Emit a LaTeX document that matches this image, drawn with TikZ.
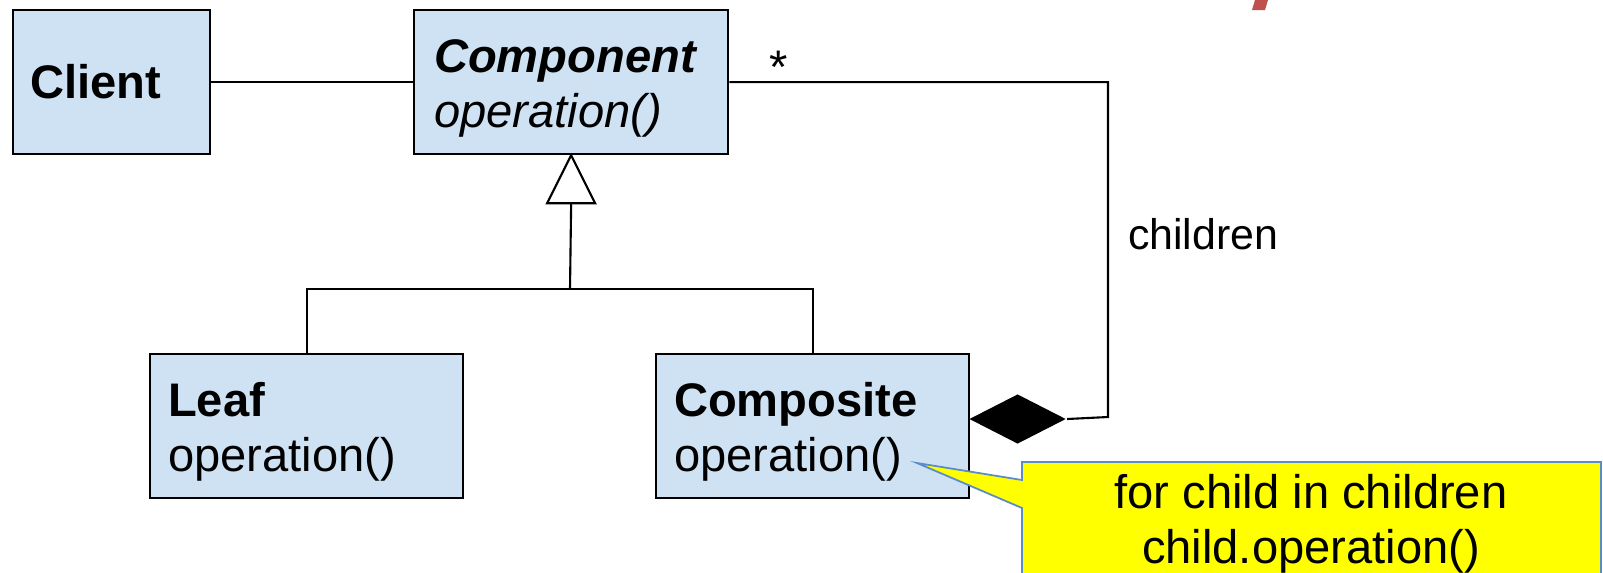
\documentclass[tikz,border=0pt]{standalone}
\usepackage{fontspec}
\setmainfont{Liberation Sans}
\usetikzlibrary{shapes.geometric}
\definecolor{boxblue}{HTML}{CFE2F3}
\definecolor{noteyellow}{HTML}{FFFF00}
\definecolor{noteblue}{HTML}{5B8BC9}
\definecolor{markred}{HTML}{C0504D}

\begin{document}
\begin{tikzpicture}[x=0.01cm,y=-0.01cm,line width=0.6pt,
  every node/.style={font=\fontsize{13.4}{15.6}\selectfont},
  umlbox/.style={draw,fill=boxblue,anchor=north west,minimum height=1.44cm,inner xsep=0.18cm,align=left},
  classbox/.style={umlbox,execute at begin node={\rule{0pt}{0.95em}}},
  lbl/.style={inner sep=0}]

\useasboundingbox (0,0) rectangle (1603,572);

% classes
\node[umlbox,text width=1.63cm,inner xsep=0.17cm] (cl) at (12,9) {\textbf{Client}};
\node[classbox,text width=2.74cm,inner xsep=0.2cm] (cmp) at (413,9) {\textbf{\textit{Component}}\\\textit{operation()}};
\node[classbox,text width=2.77cm] (lf) at (149,353) {\textbf{Leaf}\\operation()};
\node[classbox,text width=2.77cm] (cps) at (655,353) {\textbf{Composite}\\operation()};

% client uses component
\draw (cl) -- (cmp);

% generalization
\draw[fill=white] (cmp.south) -- ++(-24,48) -- ++(48,0) -- cycle;
\coordinate (tri) at ([yshift=-0.48cm]cmp.south);
\coordinate (join) at (570,289);
\draw (tri) -- (join);
\draw (lf.north) |- (join) -| (cps.north);

% aggregation
\node[diamond,fill=black,inner sep=0,minimum width=0.97cm,minimum height=0.5cm,anchor=west] (dmd) at (968,419) {};
\coordinate (crn) at (1108,417);
\draw (cmp.east) -- (cmp.east -| crn) -- (crn) -- (dmd.east);
\node[lbl] (star) at (779,67) {*};
\node[lbl,anchor=base west,font=\fontsize{12.2}{14}\selectfont] (chl) at (1127,249) {children};

% note
\coordinate (tip) at (917,463);
\path[fill=noteyellow,draw=noteblue,line width=0.5pt] (1022,480) -- (tip) -- (1022,508) -- (1022,590) -- (1601,590) -- (1601,462) -- (1022,462) -- cycle;
\node[align=center] (note) at (1311,524) {for child in children\\child.operation()};

% red mark
\fill[markred] (1255,0) -- (1268,0) -- (1265,10) -- (1252,10) -- cycle;

\end{tikzpicture}
\end{document}
